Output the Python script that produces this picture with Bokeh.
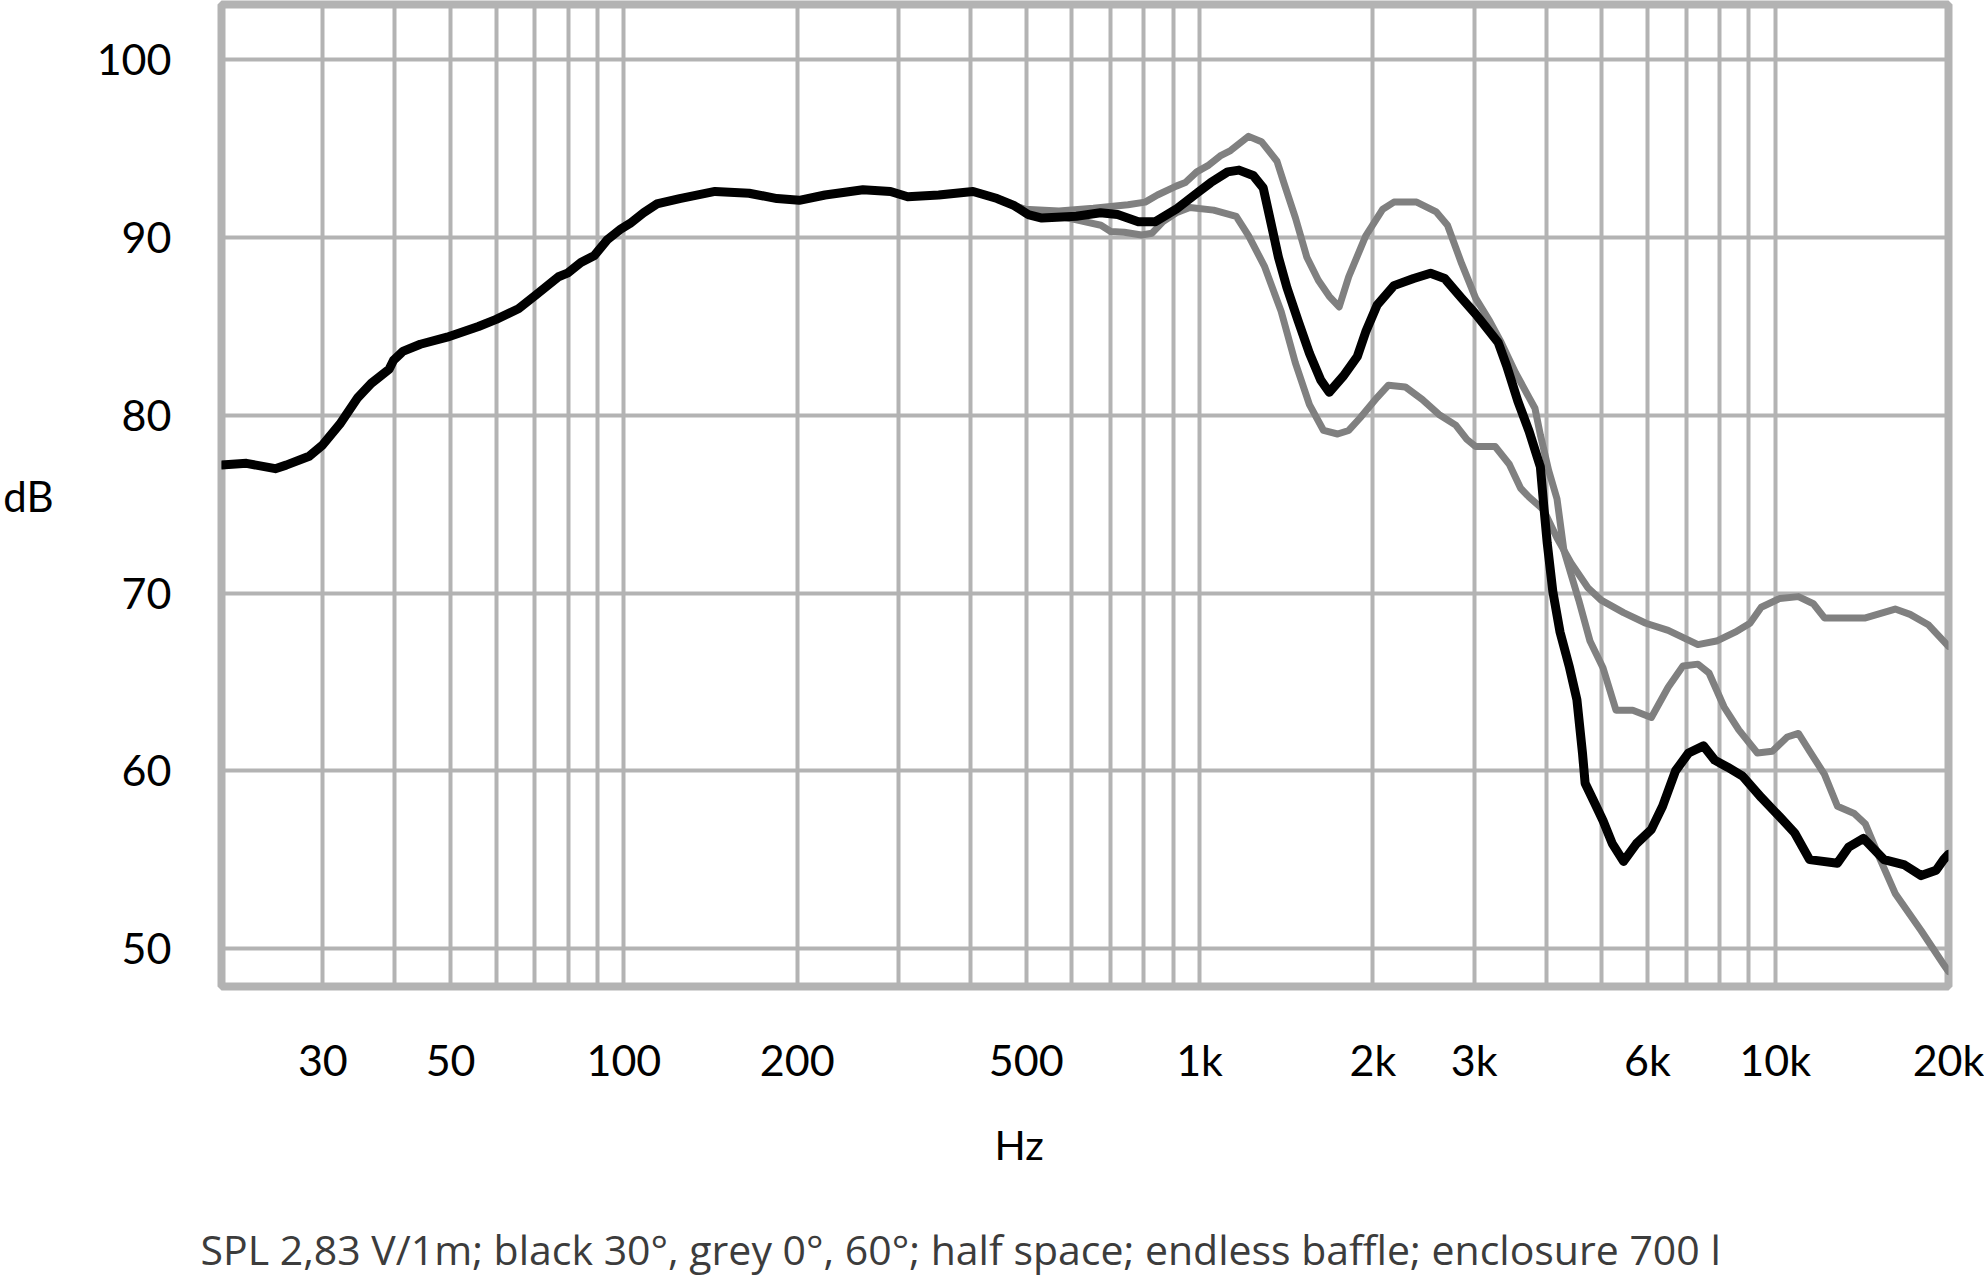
from bokeh.plotting import figure
from bokeh.models import FixedTicker, Title
from bokeh.embed import file_html
from bokeh.resources import INLINE

# ---------------- data ----------------
# shared low-frequency part (all three curves coincide below ~480 Hz)
freq_lf = [20, 22.1, 24.8, 25.9, 28.4, 29.9, 32.1, 34.5, 36.4, 39.1, 39.8, 41.3, 44.3, 49.3,
           55.9, 60.0, 65.6, 70.5, 77.0, 79.8, 84.2, 88.9, 93.7, 98.9, 102.5, 108.2, 114.1,
           125, 144, 165, 184.5, 201.7, 223.6, 260.2, 290.5, 311.2, 352.3, 404.2, 445, 476.8]
spl_lf = [77.2, 77.3, 77.0, 77.2, 77.7, 78.3, 79.5, 81.0, 81.8, 82.6, 83.1, 83.6, 84.0, 84.4,
          85.0, 85.4, 86.0, 86.8, 87.8, 88.0, 88.6, 89.0, 89.9, 90.5, 90.8, 91.4, 91.9,
          92.2, 92.6, 92.5, 92.2, 92.1, 92.4, 92.7, 92.6, 92.3, 92.4, 92.6, 92.2, 91.8]

# black: 30 degrees
freq_black = [503.8, 532.3, 611, 672.7, 720.6, 782.9, 838.3, 910.7, 989, 1046, 1119, 1171,
              1239, 1290, 1325, 1371, 1418, 1484, 1552, 1623, 1680, 1776, 1879, 1944, 2034,
              2176, 2354, 2519, 2666, 2852, 3017, 3302, 3415, 3572, 3737, 3909, 3960, 4018,
              4108, 4229, 4393, 4524, 4626, 4675, 4838, 5021, 5212, 5452, 5741, 6094, 6373,
              6713, 7071, 7506, 7850, 8268, 8776, 9456, 10186, 10811, 11474, 12827, 13416,
              14236, 15452, 16775, 17932, 19034, 19613, 20000]
spl_black = [91.3, 91.1, 91.2, 91.4, 91.3, 90.9, 90.9, 91.6, 92.5, 93.1, 93.7, 93.8,
             93.5, 92.8, 91.1, 88.9, 87.2, 85.3, 83.5, 82.0, 81.3, 82.2, 83.3, 84.7, 86.2,
             87.3, 87.7, 88.0, 87.7, 86.6, 85.7, 84.1, 82.8, 80.8, 79.1, 77.1, 75.0, 72.8,
             70.1, 67.8, 65.8, 64.0, 61.0, 59.3, 58.3, 57.2, 55.9, 54.9, 55.9, 56.7, 58.0,
             60.0, 61.0, 61.4, 60.6, 60.2, 59.7, 58.5, 57.4, 56.5, 55.0, 54.8, 55.7,
             56.2, 55.0, 54.7, 54.1, 54.4, 55.0, 55.3]

# grey curve with the high mid-range (peaks near 1.2 kHz and 2.3 kHz)
freq_grey_a = [497, 570, 654, 751, 804.5, 845, 911, 945, 989, 1034, 1086, 1132, 1217, 1281,
               1363, 1404, 1468, 1536, 1608, 1680, 1748, 1816, 1944, 2081, 2176, 2383, 2578,
               2696, 2852, 3017, 3192, 3342, 3539, 3737, 3825, 3909, 4041, 4178, 4295, 4558,
               4767, 5021, 5290, 5656, 6094, 6517, 6914, 7341, 7674, 8147, 8645, 9311, 9885,
               10492, 10974, 11474, 12178, 12827, 13717, 14346, 15224, 16158, 17932, 19613,
               20000]
spl_grey_a = [91.6, 91.5, 91.65, 91.85, 92.0, 92.4, 92.9, 93.1, 93.7, 94.05, 94.6, 94.9, 95.7,
              95.4, 94.3, 93.0, 91.1, 88.9, 87.6, 86.7, 86.1, 87.8, 90.1, 91.6, 92.0, 92.0,
              91.45, 90.7, 88.55, 86.6, 85.3, 84.1, 82.4, 81.0, 80.4, 78.9, 76.9, 75.3, 72.4,
              69.6, 67.3, 65.8, 63.4, 63.4, 63.0, 64.7, 65.9, 66.0, 65.5, 63.6, 62.3, 61.0,
              61.1, 61.9, 62.1, 61.1, 59.8, 58.0, 57.6, 57.0, 55.0, 53.1, 51.0, 49.1, 48.7]

# grey curve with the low mid-range (flat treble)
freq_grey_b = [497, 611, 674, 701, 740, 793, 827, 864, 911, 962, 1058, 1158, 1217, 1296, 1386,
               1467, 1552, 1642, 1737, 1816, 1900, 2034, 2129, 2277, 2436, 2605, 2786, 2913,
               3017, 3262, 3452, 3612, 3737, 3956, 4178, 4419, 4727, 4984, 5452, 5961, 6517,
               7341, 7907, 8519, 9040, 9456, 10186, 10974, 11648, 12178, 14346, 16158, 17149,
               18475, 19613, 20000]
spl_grey_b = [91.6, 91.0, 90.7, 90.35, 90.3, 90.15, 90.25, 90.9, 91.4, 91.7, 91.55, 91.2, 90.1,
              88.4, 85.85, 82.95, 80.6, 79.15, 78.95, 79.15, 79.85, 81.0, 81.7, 81.6, 80.9,
              80.05, 79.45, 78.65, 78.25, 78.25, 77.25, 75.9, 75.4, 74.7, 73.1, 71.7, 70.3,
              69.6, 68.9, 68.3, 67.9, 67.1, 67.3, 67.8, 68.3, 69.2, 69.7, 69.8, 69.4, 68.6,
              68.6, 69.1, 68.8, 68.2, 67.3, 67.0]

# axes
x_label_ticks = [30, 50, 100, 200, 500, 1000, 2000, 3000, 6000, 10000, 20000]
x_tick_labels = ["30", "50", "100", "200", "500", "1k", "2k", "3k", "6k", "10k", "20k"]
x_grid_freqs = [30, 40, 50, 60, 70, 80, 90, 100, 200, 300, 400, 500, 600, 700, 800, 900,
                1000, 2000, 3000, 4000, 5000, 6000, 7000, 8000, 9000, 10000]
y_ticks = [50, 60, 70, 80, 90, 100]
x_title = "Hz"
y_title = "dB"
caption = "SPL 2,83 V/1m; black 30°, grey 0°, 60°; half space; endless baffle; enclosure 700 l"

# ---------------- styling ----------------
FONT = "Lato"
CAP_FONT = "Open Sans"
GRID = "#b3b3b3"
GREY = "#808080"

p = figure(width=1984, height=1277, x_axis_type="log", x_range=(20, 20000),
           y_range=(47.86, 103.12), output_backend="svg", toolbar_location=None,
           title=None, min_border_left=221, min_border_right=36, min_border_top=4,
           min_border_bottom=291)
p.background_fill_color = "white"
p.border_fill_color = "white"
p.outline_line_color = GRID
p.outline_line_width = 8

p.xgrid.ticker = FixedTicker(ticks=x_grid_freqs)
p.ygrid.ticker = FixedTicker(ticks=y_ticks)
for g in (p.xgrid, p.ygrid):
    g.grid_line_color = GRID
    g.grid_line_width = 4
    g.minor_grid_line_color = None

p.xaxis.ticker = FixedTicker(ticks=x_label_ticks)
p.xaxis.major_label_overrides = {t: s for t, s in zip(x_label_ticks, x_tick_labels)}
p.yaxis.ticker = FixedTicker(ticks=y_ticks)
for ax in (p.xaxis, p.yaxis):
    ax.axis_line_color = None
    ax.major_tick_line_color = None
    ax.minor_tick_line_color = None
    ax.major_label_text_font = FONT
    ax.major_label_text_font_size = "43px"
    ax.major_label_text_color = "black"
p.xaxis.major_label_standoff = 41
p.yaxis.major_label_standoff = 44

yax = p.yaxis[0]
yax.axis_label = y_title
yax.axis_label_text_font = FONT
yax.axis_label_text_font_size = "42px"
yax.axis_label_text_font_style = "normal"
yax.axis_label_text_color = "black"
yax.axis_label_standoff = 40
if "axis_label_orientation" in yax.properties():
    yax.axis_label_orientation = "horizontal"

p.line(freq_lf + freq_grey_b, spl_lf + spl_grey_b, line_color=GREY, line_width=7,
       line_join="round", line_cap="round")
p.line(freq_lf + freq_grey_a, spl_lf + spl_grey_a, line_color=GREY, line_width=7,
       line_join="round", line_cap="round")
p.line(freq_lf + freq_black, spl_lf + spl_black, line_color="black", line_width=9,
       line_join="round", line_cap="round")

# below the frame: x title, a blank spacer line, then the caption
p.add_layout(Title(text=x_title, align="left", offset=773, standoff=60,
                   text_font=FONT, text_font_size="41px", text_font_style="normal",
                   text_color="black"), "below")
p.add_layout(Title(text=" ", align="left", standoff=6, text_font=FONT,
                   text_font_size="10px", text_color="white"), "below")
p.add_layout(Title(text=caption, align="left", offset=-21, standoff=0,
                   text_font=CAP_FONT, text_font_size="41px", text_font_style="normal",
                   text_color="#3c3c3c"), "below")

open("out.html", "w").write(file_html(p, INLINE))
